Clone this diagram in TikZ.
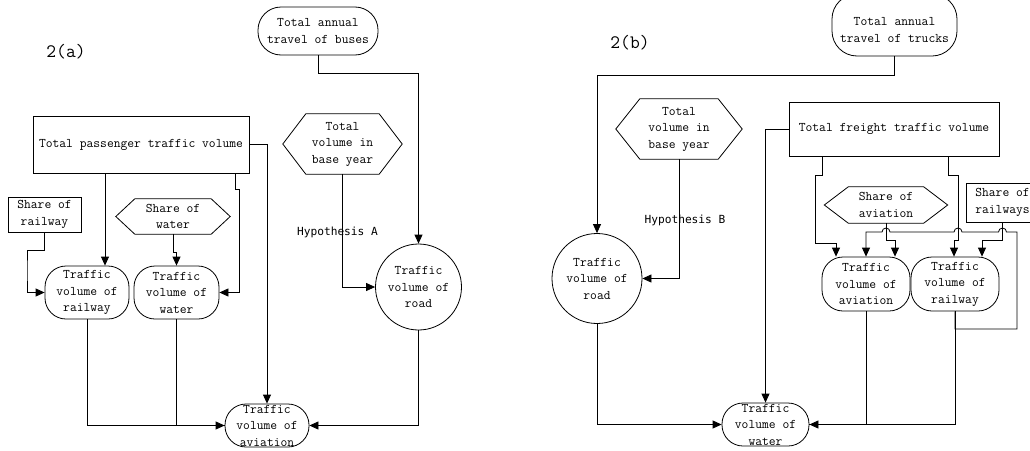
\documentclass[tikz,border=0pt]{standalone}
\usepackage{fontspec}
\newfontfamily\hyfont{DejaVu Sans Mono}
\usetikzlibrary{arrows.meta,calc}
\newcommand\hexdraw[2]{\draw[ln] ($(#1.north west)+(#2,0)$) -- ($(#1.north east)-(#2,0)$) -- (#1.east) -- ($(#1.south east)-(#2,0)$) -- ($(#1.south west)+(#2,0)$) -- (#1.west) -- cycle;}
\begin{document}
\begin{tikzpicture}[x=1pt,y=-1pt,
  ln/.style={line width=0.8pt},
  arr/.style={ln,-{Triangle[length=9pt,width=8pt]}},
  txt/.style={font=\ttfamily\fontsize{13.2}{16.5}\selectfont, align=center, inner sep=0pt},
  hyp/.style={font=\hyfont\fontsize{11.2}{14}\selectfont, inner sep=0pt},
  big/.style={font=\ttfamily\fontsize{19}{21}\selectfont, inner sep=0pt},
  shp/.style={draw, ln, inner sep=0pt},
  rect/.style={shp, rectangle},
  stad/.style={shp, rectangle, rounded corners=#1},
  stad/.default=21pt,
  circ/.style={shp, circle},
  hexn/.style={inner sep=0pt, rectangle},
  sz/.style 2 args={minimum width=#1pt, minimum height=#2pt},
  lab/.style={label={[txt]center:{#1}}},
]
\useasboundingbox (0,0) rectangle (1030,450);
\clip (0,0) rectangle (1030,450);

% ---------------- 2(a) ----------------
\node[big] (labA) at (66,52) {2(a)};
\node[stad=23pt, sz={120}{48}, lab={Total annual\\travel of buses}] (busA) at (318,31) {};
\node[rect, sz={216}{57}, lab={Total passenger traffic volume}] (pass) at (141,144.5) {};
\node[hexn, sz={119}{60}, lab={Total\\volume in\\base year}] (baseA) at (342.5,144) {};
\hexdraw{baseA}{23}
\node[rect, sz={73}{35}, lab={Share of\\railway}] (shrA) at (44.5,214.5) {};
\node[hexn, sz={114}{35}, lab={Share of\\water}] (shwA) at (173,216.5) {};
\hexdraw{shwA}{19}
\node[hyp] (hypA) at (337.5,232) {Hypothesis A};
\node[stad, sz={84}{53}, lab={Traffic\\volume of\\railway}] (rwA) at (87,292.5) {};
\node[stad, sz={85}{53}, lab={Traffic\\volume of\\water}] (wtA) at (176.5,292.5) {};
\node[circ, minimum size=86pt, lab={Traffic\\volume of\\road}] (roadA) at (418.5,287) {};
\node[stad, sz={84}{43}, lab={Traffic\\volume of\\aviation}] (avA) at (267,425.5) {};

\draw[arr] (busA.south) -- ++(0,18) -| (roadA.north);
\draw[arr] (baseA.south) |- (roadA.west);
\draw[arr] (pass.east) -| (avA.north);
\draw[arr] (pass.south -| 105,0) -- (rwA.north -| 105,0);
\draw[arr] (pass.south -| 235,0) -- (235,189) -- (239,189) |- (wtA.east);
\draw[arr] (shrA.south) -- ++(0,18) -| (27,270) |- (rwA.west);
\draw[arr] (shwA.south) -- ++(0,18) -| (wtA.north);
\draw[arr] (rwA.south) |- (avA.west);
\draw[ln] (wtA.south) |- (avA.west);
\draw[arr] (roadA.south) |- (avA.east);

% ---------------- 2(b) ----------------
\node[big] (labB) at (630,43) {2(b)};
\node[stad=25pt, sz={125}{62}, label={[txt,yshift=-5pt]center:{Total annual\\travel of trucks}}] (trkB) at (894.5,25) {};
\node[hexn, sz={126}{60}, lab={Total\\volume in\\base year}] (baseB) at (679,129) {};
\hexdraw{baseB}{24}
\node[rect, sz={210}{54}, lab={Total freight traffic volume}] (fB) at (894,129) {};
\node[hyp] (hypB) at (685,220) {Hypothesis B};
\node[hexn, sz={123}{36}, lab={Share of\\aviation}] (saB) at (886,205) {};
\hexdraw{saB}{24}
\node[rect, sz={73}{39}, lab={Share of\\railways}] (srB) at (1002.5,202.5) {};
\node[circ, minimum size=90pt, lab={Traffic\\volume of\\road}] (roadB) at (597,278.5) {};
\node[stad, sz={88}{54}, lab={Traffic\\volume of\\aviation}] (avB) at (866,284) {};
\node[stad, sz={88}{54}, lab={Traffic\\volume of\\railway}] (rwB) at (955,284) {};
\node[stad, sz={87}{43}, lab={Traffic\\volume of\\water}] (wB) at (765.5,424.5) {};

\draw[arr] (trkB.south) -- ++(0,19) -| (roadB.north);
\draw[arr] (baseB.south) |- (roadB.east);
\draw[arr] (fB.west) -| (wB.north);
\draw[arr] (fB.south -| 822,0) -- (822,175) -- (815,175) -- (815,243) -| (avB.north -| 836,0);
\draw[arr] (fB.south -| 948,0) -- (948,175) -- (958,175) -- (958,240) -| (rwB.north -| 954,0);
\draw[arr] (saB.south) -- ++(0,17) -| (avB.north -| 895,0);
\draw[arr] (srB.south) -- (1002.5,240) -| (rwB.north -| 982,0);
\draw[arr] (rwB.south) |- (1017,329) -- (1017,232) -- (1006.5,232)
  arc[start angle=0,end angle=180,radius=4pt] -- (962,232)
  arc[start angle=0,end angle=180,radius=4pt] -- (890,232)
  arc[start angle=0,end angle=180,radius=4pt] -| (avB.north);
\draw[arr] (rwB.south) |- (wB.east);
\draw[ln] (avB.south) |- (wB.east);
\draw[arr] (roadB.south) |- (wB.west);
\end{tikzpicture}
\end{document}
